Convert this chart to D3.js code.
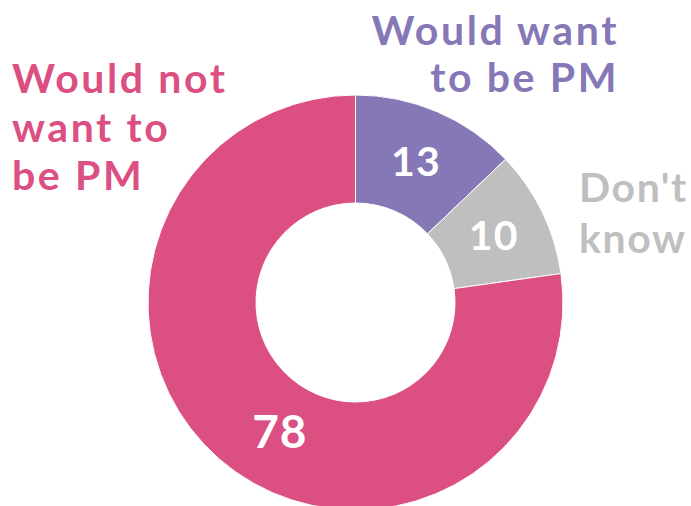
<!DOCTYPE html>
<html>
<head>
<meta charset="utf-8">
<script src="https://cdn.jsdelivr.net/npm/d3@7"></script>
<style>
  body { margin: 0; background: #fff; }
  svg { display: block; font-family: Lato, "Open Sans", sans-serif; }
</style>
</head>
<body>
<div id="chart"></div>
<script>
var categories = ["Would want to be PM", "Don't know", "Would not want to be PM"];
var values = [13, 10, 78];
var colors = ["#8677b7", "#bfbfbf", "#dc4f82"];

// category labels, broken in lines like the original
var labelLines = [
  ["Would want", "to be PM"],
  ["Don't", "know"],
  ["Would not", "want to", "be PM"]
];

var width = 691,
  height = 506;
var cx = 355.5,
  cy = 302.5,
  outerR = 207.5,
  innerR = 99.5;

var svg = d3
  .select("#chart")
  .append("svg")
  .attr("width", width)
  .attr("height", height);

var g = svg.append("g").attr("transform", `translate(${cx}, ${cy})`);

var pie = d3.pie().sort(null).value((d) => d);
var arcs = pie(values);

var arc = d3.arc().innerRadius(innerR).outerRadius(outerR);

g.selectAll("path")
  .data(arcs)
  .join("path")
  .attr("d", arc)
  .style("fill", (d, i) => colors[i])
  .style("stroke", "#fff")
  .style("stroke-width", 1);

// value labels at the middle of each slice
var nudge = [
  [0, 0],
  [0, 0],
  [25, 14]
];
var numSize = [41, 41, 46];

g.selectAll("text.value")
  .data(arcs)
  .join("text")
  .attr("class", "value")
  .attr("x", (d, i) => arc.centroid(d)[0] + nudge[i][0])
  .attr("y", (d, i) => arc.centroid(d)[1] + nudge[i][1])
  .attr("dy", "0.35em")
  .attr("text-anchor", "middle")
  .style("fill", "#fff")
  .style("font-weight", 700)
  .style("font-size", (d, i) => numSize[i] + "px")
  .style("letter-spacing", "1px")
  .text((d) => d.data);

// category labels
var labelPos = [
  { x: 619, y: 45, anchor: "end", lh: 47, ls: 2.6 },
  { x: 579, y: 202, anchor: "start", lh: 51, ls: 1.6 },
  { x: 12, y: 93, anchor: "start", lh: 48.5, ls: 2.6 }
];

categories.forEach(function (c, i) {
  var t = svg
    .append("text")
    .attr("x", labelPos[i].x)
    .attr("y", labelPos[i].y)
    .attr("text-anchor", labelPos[i].anchor)
    .style("fill", colors[i])
    .style("font-weight", 700)
    .style("font-size", "41px")
    .style("letter-spacing", labelPos[i].ls + "px");
  labelLines[i].forEach(function (line, j) {
    t.append("tspan")
      .attr("x", labelPos[i].x)
      .attr("y", labelPos[i].y + j * labelPos[i].lh)
      .text(line);
  });
});
</script>
</body>
</html>
